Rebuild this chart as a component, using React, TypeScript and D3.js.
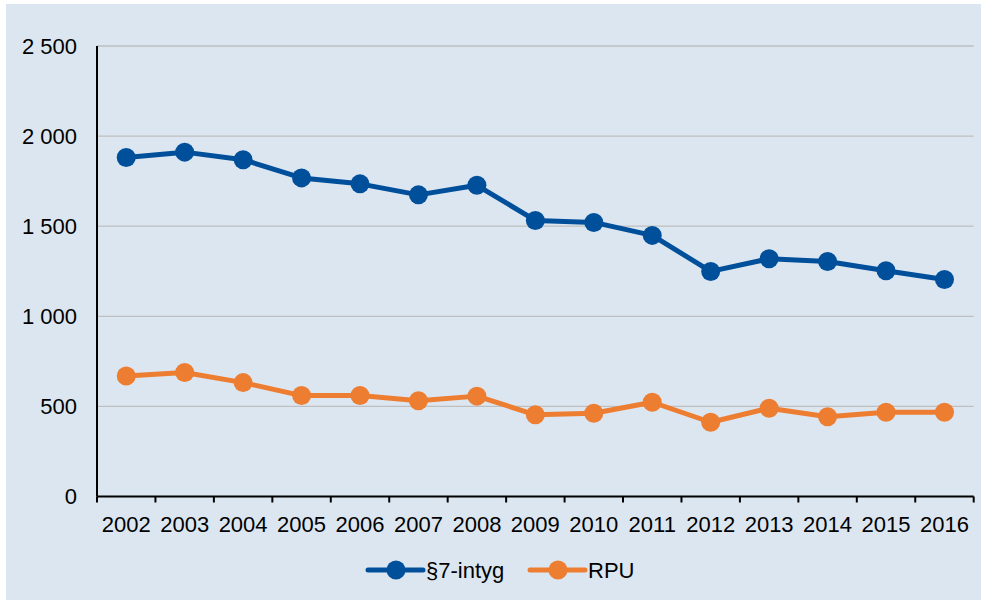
import { useRef, useEffect } from 'react';
import * as d3 from 'd3';

const years = ['2002', '2003', '2004', '2005', '2006', '2007', '2008', '2009', '2010', '2011', '2012', '2013', '2014', '2015', '2016'];
const intyg = [1881, 1911, 1869, 1768, 1735, 1674, 1727, 1532, 1521, 1449, 1249, 1319, 1304, 1253, 1204];
const rpu = [669, 688, 632, 560, 560, 531, 557, 453, 462, 523, 412, 490, 443, 468, 468];
const yTicks = [0, 500, 1000, 1500, 2000, 2500];
const seriesNames = ['§7-intyg', 'RPU'];
const seriesColors = ['#004F9B', '#ED7D31'];

const W = 981;
const H = 600;

export default function App() {
    const svgRef = useRef<SVGSVGElement>(null);

    useEffect(() => {
        if (!svgRef.current) return;
        const svg = d3.select(svgRef.current);
        svg.selectAll('*').remove();

        const margin = { top: 46, right: 8, bottom: 104, left: 97 };
        const innerW = 973.7 - margin.left;
        const innerH = 496.5 - margin.top;
        const font = '"Liberation Sans", Arial, sans-serif';

        // background panel
        svg.append('rect')
            .attr('x', 6).attr('y', 4)
            .attr('width', W - 6).attr('height', H - 4)
            .attr('fill', '#DCE6F0');

        const g = svg.append('g').attr('transform', `translate(${margin.left},${margin.top})`);

        const x = d3.scaleBand<string>().domain(years).range([0, innerW]);
        const y = d3.scaleLinear().domain([0, 2500]).range([innerH, 0]);

        // gridlines
        g.append('g').selectAll('line')
            .data(yTicks.filter(t => t > 0))
            .enter().append('line')
            .attr('x1', 0).attr('x2', innerW)
            .attr('y1', d => y(d)).attr('y2', d => y(d))
            .attr('stroke', '#BFBFBF')
            .attr('stroke-width', 1.3);

        // y labels
        g.append('g').selectAll('text')
            .data(yTicks)
            .enter().append('text')
            .attr('x', -20)
            .attr('y', d => y(d))
            .attr('dy', '0.36em')
            .attr('text-anchor', 'end')
            .attr('font-size', '22px')
            .attr('font-family', font)
            .attr('fill', '#000')
            .text(d => d3.format(',')(d).replace(',', ' '));

        // axes
        g.append('line')
            .attr('x1', 0).attr('x2', 0)
            .attr('y1', 0).attr('y2', innerH)
            .attr('stroke', '#000').attr('stroke-width', 2);
        g.append('line')
            .attr('x1', 0).attr('x2', innerW)
            .attr('y1', innerH).attr('y2', innerH)
            .attr('stroke', '#000').attr('stroke-width', 2);

        // x ticks
        const tickPos = years.map(yr => x(yr)!).concat([innerW]);
        g.append('g').selectAll('line')
            .data(tickPos)
            .enter().append('line')
            .attr('x1', d => d).attr('x2', d => d)
            .attr('y1', innerH).attr('y2', innerH + 6)
            .attr('stroke', '#000').attr('stroke-width', 2);

        // x labels
        g.append('g').selectAll('text')
            .data(years)
            .enter().append('text')
            .attr('x', d => x(d)! + x.bandwidth() / 2)
            .attr('y', innerH + 35)
            .attr('text-anchor', 'middle')
            .attr('font-size', '22px')
            .attr('font-family', font)
            .attr('fill', '#000')
            .text(d => d);

        const line = d3.line<number>()
            .x((_, i) => x(years[i])! + x.bandwidth() / 2)
            .y(d => y(d));

        [intyg, rpu].forEach((vals, si) => {
            g.append('path')
                .attr('d', line(vals)!)
                .attr('fill', 'none')
                .attr('stroke', seriesColors[si])
                .attr('stroke-width', 5)
                .attr('stroke-linejoin', 'round');
            g.append('g').selectAll('circle')
                .data(vals)
                .enter().append('circle')
                .attr('cx', (_, i) => x(years[i])! + x.bandwidth() / 2)
                .attr('cy', d => y(d))
                .attr('r', 9.5)
                .attr('fill', seriesColors[si]);
        });

        // legend
        const legendY = 570;
        const legendX = [368, 530];
        seriesNames.forEach((name, i) => {
            const lg = svg.append('g').attr('transform', `translate(${legendX[i]},${legendY})`);
            lg.append('line')
                .attr('x1', 0).attr('x2', 55)
                .attr('y1', 0).attr('y2', 0)
                .attr('stroke', seriesColors[i])
                .attr('stroke-width', 5)
                .attr('stroke-linecap', 'round');
            lg.append('circle')
                .attr('cx', 28).attr('cy', 0).attr('r', 9.5)
                .attr('fill', seriesColors[i]);
            lg.append('text')
                .attr('x', 58)
                .attr('y', 0)
                .attr('dy', '0.36em')
                .attr('font-size', '22px')
                .attr('font-family', font)
                .attr('fill', '#000')
                .text(name);
        });
    }, []);

    return (
        <svg
            ref={svgRef}
            width={W}
            height={H}
            style={{ position: 'absolute', left: 0, top: 0, display: 'block', background: '#fff' }}
        />
    );
}
